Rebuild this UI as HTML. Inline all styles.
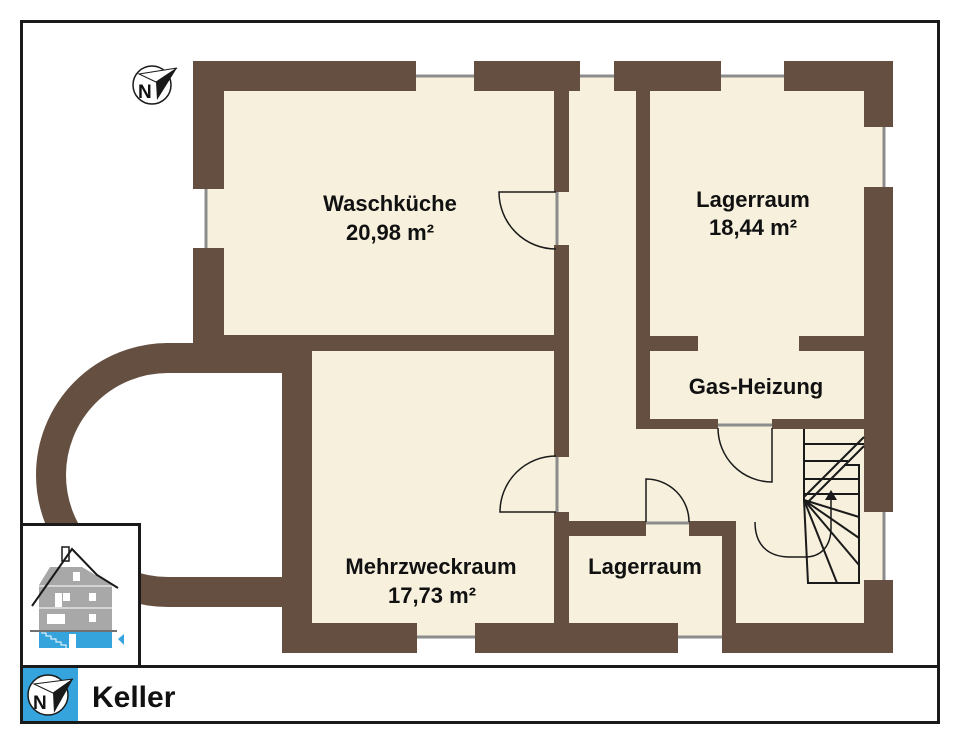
<!DOCTYPE html>
<html>
<head>
<meta charset="utf-8">
<style>
  html, body { margin:0; padding:0; background:#ffffff; }
  svg { display:block; }
  text { font-family: "Liberation Sans", "DejaVu Sans", sans-serif; font-weight:bold; fill:#111; }
</style>
</head>
<body>
<svg width="960" height="745" viewBox="0 0 960 745" xmlns="http://www.w3.org/2000/svg">
  <rect x="0" y="0" width="960" height="745" fill="#ffffff"/>

  <!-- floor -->
  <polygon points="206,76 884,76 884,638 312,638 312,343 206,343" fill="#f6f0dd"/>

  <!-- curved wall -->
  <path d="M 290,358 L 168,358 A 117,117 0 0 0 168,592 L 290,592" fill="none" stroke="#654f41" stroke-width="30"/>

  <g fill="#654f41">
    <!-- top wall -->
    <rect x="193" y="61" width="223" height="30"/>
    <rect x="474" y="61" width="106" height="30"/>
    <rect x="614" y="61" width="107" height="30"/>
    <rect x="784" y="61" width="109" height="30"/>
    <!-- right wall -->
    <rect x="864" y="61" width="29" height="66"/>
    <rect x="864" y="187" width="29" height="325"/>
    <rect x="864" y="580" width="29" height="73"/>
    <!-- bottom wall -->
    <rect x="722" y="623" width="171" height="30"/>
    <rect x="475" y="623" width="203" height="30"/>
    <rect x="282" y="623" width="135" height="30"/>
    <!-- left walls -->
    <rect x="193" y="61" width="31" height="128"/>
    <rect x="193" y="248" width="31" height="125"/>
    <rect x="282" y="343" width="30" height="310"/>
    <rect x="165" y="343" width="147" height="30"/>
    <rect x="224" y="335" width="330" height="16"/>
    <!-- interior -->
    <rect x="554" y="91" width="15" height="101"/>
    <rect x="554" y="245" width="15" height="212"/>
    <rect x="554" y="512" width="15" height="111"/>
    <rect x="636" y="91" width="14" height="338"/>
    <rect x="636" y="336" width="62" height="15"/>
    <rect x="799" y="336" width="65" height="15"/>
    <rect x="636" y="419" width="82" height="10"/>
    <rect x="772" y="419" width="92" height="10"/>
    <rect x="554" y="521" width="92" height="15"/>
    <rect x="689" y="521" width="47" height="15"/>
    <rect x="722" y="521" width="14" height="132"/>
  </g>

  <!-- windows -->
  <g stroke="#8c8c8c" stroke-width="3" fill="none">
    <line x1="416" y1="76" x2="474" y2="76"/>
    <line x1="580" y1="76" x2="614" y2="76"/>
    <line x1="721" y1="76" x2="784" y2="76"/>
    <line x1="884" y1="127" x2="884" y2="187"/>
    <line x1="884" y1="512" x2="884" y2="580"/>
    <line x1="417" y1="637" x2="475" y2="637"/>
    <line x1="678" y1="637" x2="722" y2="637"/>
    <line x1="206" y1="189" x2="206" y2="248"/>
    <!-- door thresholds -->
    <line x1="557" y1="192" x2="557" y2="245"/>
    <line x1="557" y1="457" x2="557" y2="512"/>
    <line x1="646" y1="523" x2="689" y2="523"/>
    <line x1="718" y1="425" x2="772" y2="425"/>
  </g>

  <!-- doors -->
  <g stroke="#1a1a1a" stroke-width="1.5" fill="none">
    <path d="M556,192 L499,192 A57,57 0 0 0 556,249"/>
    <path d="M556,512 L500,512 A56,56 0 0 1 556,456"/>
    <path d="M646,522 L646,479 A43,43 0 0 1 689,522"/>
    <path d="M718,428 A54,54 0 0 0 772,482 L772,428"/>
  </g>

  <!-- stairs -->
  <g stroke="#1a1a1a" stroke-width="2" fill="none">
    <line x1="804" y1="429" x2="804" y2="500"/>
    <line x1="804" y1="444" x2="864" y2="444"/>
    <line x1="804" y1="461" x2="848" y2="461"/>
    <line x1="804" y1="479" x2="859" y2="479"/>
    <line x1="804" y1="494" x2="859" y2="494"/>
    <polyline points="844,465 859,465 859,583 808,583 804,500"/>
    <line x1="804" y1="497" x2="864" y2="437"/>
    <line x1="807" y1="503" x2="864" y2="446"/>
    <line x1="804" y1="500" x2="859" y2="517"/>
    <line x1="804" y1="500" x2="859" y2="538"/>
    <line x1="804" y1="500" x2="859" y2="565"/>
    <line x1="804" y1="500" x2="837" y2="583"/>
  </g>
  <path d="M755,522 C755,545 768,557 790,557 L805,557 C822,557 831,545 831,528 L831,499" fill="none" stroke="#1a1a1a" stroke-width="1.5"/>
  <polygon points="831,490 825,500 837,500" fill="#1a1a1a"/>

  <!-- labels -->
  <text x="390" y="211" font-size="22" text-anchor="middle">Waschküche</text>
  <text x="390" y="240" font-size="22" text-anchor="middle">20,98 m²</text>
  <text x="753" y="207" font-size="22" text-anchor="middle">Lagerraum</text>
  <text x="753" y="235" font-size="22" text-anchor="middle">18,44 m²</text>
  <text x="756" y="394" font-size="22" text-anchor="middle">Gas-Heizung</text>
  <text x="431" y="574" font-size="22" text-anchor="middle">Mehrzweckraum</text>
  <text x="432" y="603" font-size="22" text-anchor="middle">17,73 m²</text>
  <text x="645" y="574" font-size="22" text-anchor="middle">Lagerraum</text>

  <!-- small compass -->
  <circle cx="152" cy="85" r="19" fill="#fff" stroke="#1a1a1a" stroke-width="1.5"/>
  <polygon points="139,74 177,68 156,82" fill="#fff" stroke="#1a1a1a" stroke-width="1"/>
  <polygon points="156,82 177,68 157,100" fill="#1a1a1a"/>
  <text x="138" y="98" font-size="19">N</text>

  <!-- house inset box -->
  <rect x="21.5" y="524.5" width="118" height="142" fill="#fff" stroke="#1a1a1a" stroke-width="3"/>
  <g>
    <polygon points="50,567 82,567 97,576 112,585 112,630 39,630 39,585" fill="#a8a8a8"/>
    <line x1="39" y1="586" x2="112" y2="586" stroke="#fff" stroke-width="1"/>
    <line x1="39" y1="608" x2="112" y2="608" stroke="#fff" stroke-width="1"/>
    <g fill="#fff">
      <rect x="73" y="572" width="7" height="9"/>
      <rect x="55" y="593" width="7" height="14"/>
      <rect x="63" y="593" width="7" height="8"/>
      <rect x="89" y="593" width="7" height="8"/>
      <rect x="47" y="614" width="18" height="10"/>
      <rect x="89" y="614" width="7" height="8"/>
    </g>
    <rect x="62" y="547" width="7" height="14" fill="#fff" stroke="#1a1a1a" stroke-width="1.5"/>
    <polyline points="32,606 72,549 97,575 118,588" fill="none" stroke="#1a1a1a" stroke-width="2"/>
    <rect x="39" y="632" width="73" height="16" fill="#35a4dd"/>
    <polyline points="41,633 46,633 46,636 51,636 51,639 56,639 56,642 61,642 61,645 66,645 66,648" fill="none" stroke="#fff" stroke-width="1"/>
    <rect x="69" y="634" width="7" height="14" fill="#fff"/>
    <line x1="30" y1="631" x2="117" y2="631" stroke="#1a1a1a" stroke-width="1.2"/>
    <polygon points="118,639 124,634 124,645" fill="#35a4dd"/>
  </g>

  <!-- outer frame -->
  <rect x="21.5" y="21.5" width="917" height="701" fill="none" stroke="#1a1a1a" stroke-width="3"/>
  <line x1="20" y1="666.5" x2="940" y2="666.5" stroke="#1a1a1a" stroke-width="3"/>

  <!-- bottom bar -->
  <rect x="23" y="668" width="55" height="53" fill="#35a4dd"/>
  <circle cx="48" cy="695" r="20" fill="#fff" stroke="#1a1a1a" stroke-width="1.5"/>
  <polygon points="34,684 73,679 53,693" fill="#fff" stroke="#1a1a1a" stroke-width="1"/>
  <polygon points="53,693 73,679 54,713" fill="#1a1a1a"/>
  <text x="33" y="709" font-size="19">N</text>
  <text x="92" y="707" font-size="30">Keller</text>
</svg>
</body>
</html>
